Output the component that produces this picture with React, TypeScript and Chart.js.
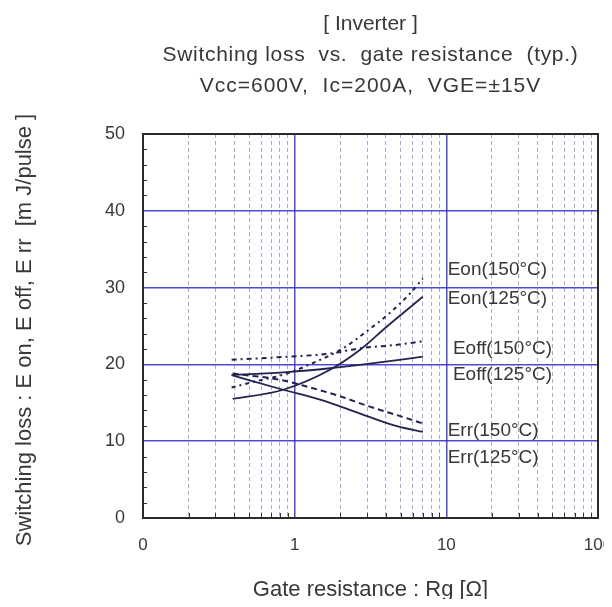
import React, { useEffect, useRef } from "react";
import { Chart, registerables } from "chart.js";

Chart.register(...registerables);

// ---- data ----
const titleLines = ["[ Inverter ]", "Switching loss  vs.  gate resistance  (typ.)", "Vcc=600V,  Ic=200A,  VGE=±15V"];
const xAxisTitle = "Gate resistance : Rg [Ω]";
const yAxisTitle = "Switching loss : E on, E off, E rr  [m J/pulse ]";

const xMajorTicks = [0.1, 1, 10, 100];
const xMajorLabels = ["0", "1", "10", "100"];
const xMinorTicks = [0.2, 0.3, 0.4, 0.5, 0.6, 0.7, 0.8, 0.9, 2, 3, 4, 5, 6, 7, 8, 9, 20, 30, 40, 50, 60, 70, 80, 90];
const yMinorTicks = [2, 4, 6, 8, 12, 14, 16, 18, 22, 24, 26, 28, 32, 34, 36, 38, 42, 44, 46, 48];

const seriesNames = ["Eon(150°C)", "Eon(125°C)", "Eoff(150°C)", "Eoff(125°C)", "Err(150°C)", "Err(125°C)"];

const rgEon150 = [0.384, 0.53, 0.886, 1.4, 2.09, 2.98, 4.24, 5.74, 7.0];
const eon150 = [17.0, 17.7, 18.8, 20.4, 22.1, 24.3, 26.7, 29.2, 31.2];
const rgEon125 = [0.39, 0.84, 1.71, 2.7, 4.04, 7.0];
const eon125 = [15.5, 16.7, 19.3, 21.9, 24.9, 28.8];
const rgEoff150 = [0.384, 0.886, 1.71, 2.7, 4.47, 7.0];
const eoff150 = [20.6, 21.0, 21.4, 22.1, 22.5, 23.0];
const rgEoff125 = [0.384, 0.886, 1.71, 3.13, 7.0];
const eoff125 = [18.6, 19.0, 19.5, 20.1, 21.0];
const rgErr150 = [0.39, 0.8, 1.26, 1.89, 3.13, 5.47, 7.0];
const err150 = [18.8, 18.0, 17.0, 16.0, 14.5, 13.0, 12.3];
const rgErr125 = [0.384, 0.84, 1.47, 2.7, 4.47, 7.0];
const err125 = [18.6, 16.7, 15.4, 13.6, 12.1, 11.2];

// curve label anchors (data coordinates)
const labelRg = [10.2, 10.2, 11.05, 11.05, 10.2, 10.2];
const labelE = [32.3, 28.6, 22.0, 18.6, 11.4, 7.9];

const FONT = "'Liberation Sans', Arial, sans-serif";
const TEXT = "#383838";
const LINE = "#23234f";

const pts = (xs: number[], ys: number[]) => xs.map((x, i) => ({ x, y: ys[i] }));

const decorPlugin = {
  id: "decor",
  beforeDatasetsDraw(chart: any) {
    const { ctx, chartArea: a, scales } = chart;
    ctx.save();
    ctx.strokeStyle = "#333";
    ctx.lineWidth = 1;
    ctx.beginPath();
    yMinorTicks.forEach((v) => {
      const py = Math.round(scales.y.getPixelForValue(v)) + 0.5;
      ctx.moveTo(a.left, py);
      ctx.lineTo(a.left + 4, py);
    });
    xMinorTicks.forEach((v) => {
      const px = Math.round(scales.x.getPixelForValue(v)) + 0.5;
      ctx.moveTo(px, a.bottom);
      ctx.lineTo(px, a.bottom - 5);
    });
    ctx.stroke();
    ctx.strokeStyle = "#2a2a2a";
    ctx.lineWidth = 2;
    ctx.strokeRect(a.left, a.top, a.right - a.left, a.bottom - a.top);
    ctx.restore();
  },
  afterDatasetsDraw(chart: any) {
    const { ctx, chartArea: a, scales } = chart;
    ctx.save();
    ctx.fillStyle = TEXT;
    ctx.textAlign = "center";
    ctx.textBaseline = "middle";
    const cx = (a.left + a.right) / 2;
    ctx.font = `21px ${FONT}`;
    titleLines.forEach((t, i) => {
      ctx.letterSpacing = i === 0 ? "0px" : i === 1 ? "0.7px" : "1px";
      ctx.fillText(t, cx, 16 + i * 31);
    });
    ctx.letterSpacing = "0px";
    ctx.font = `22px ${FONT}`;
    ctx.fillText(xAxisTitle, cx, 582);
    ctx.save();
    ctx.translate(17, (a.top + a.bottom) / 2 + 4);
    ctx.rotate(-Math.PI / 2);
    ctx.fillText(yAxisTitle, 0, 0);
    ctx.restore();
    ctx.font = `19px ${FONT}`;
    ctx.textAlign = "left";
    seriesNames.forEach((t, i) => {
      const px = scales.x.getPixelForValue(labelRg[i]);
      const py = scales.y.getPixelForValue(labelE[i]);
      ctx.fillText(t, px, py);
    });
    ctx.restore();
  },
};

export default function App() {
  const ref = useRef<HTMLCanvasElement>(null);
  useEffect(() => {
    const mk = (label: string, xs: number[], ys: number[], dash: number[], w: number) => ({
      label,
      data: pts(xs, ys),
      borderColor: LINE,
      borderWidth: w,
      borderDash: dash,
      pointRadius: 0,
      tension: 0.4,
      cubicInterpolationMode: "monotone" as const,
      fill: false,
    });
    const chart = new Chart(ref.current!, {
      type: "line",
      data: {
        datasets: [
          mk(seriesNames[0], rgEon150, eon150, [4, 4, 2, 4], 2),
          mk(seriesNames[1], rgEon125, eon125, [], 1.8),
          mk(seriesNames[2], rgEoff150, eoff150, [5, 4, 2, 4], 2),
          mk(seriesNames[3], rgEoff125, eoff125, [], 1.8),
          mk(seriesNames[4], rgErr150, err150, [6, 4], 2),
          mk(seriesNames[5], rgErr125, err125, [], 1.8),
        ],
      },
      options: {
        animation: false,
        responsive: false,
        devicePixelRatio: 1,
        layout: { padding: { top: 126, right: 14, left: 0, bottom: 0 } },
        plugins: { legend: { display: false }, tooltip: { enabled: false }, title: { display: false } },
        scales: {
          x: {
            type: "logarithmic",
            position: "bottom",
            min: 0.1,
            max: 100,
            afterBuildTicks: (s: any) => {
              s.ticks = xMajorTicks.map((v) => ({ value: v }));
            },
            afterFit: (s: any) => {
              s.height = 81;
              s.paddingLeft = 0;
              s.paddingRight = 0;
            },
            ticks: {
              autoSkip: false,
              maxRotation: 0,
              padding: 17,
              color: TEXT,
              font: { family: FONT, size: 17 },
              callback: (v: any) => {
                const i = xMajorTicks.indexOf(Number(v));
                return i >= 0 ? xMajorLabels[i] : "";
              },
            },
            grid: { color: "rgba(45,45,205,0.85)", lineWidth: 1.5, drawTicks: false },
            border: { display: false },
          },
          x2: {
            type: "logarithmic",
            position: "bottom",
            min: 0.1,
            max: 100,
            afterBuildTicks: (s: any) => {
              s.ticks = xMinorTicks.map((v) => ({ value: v }));
            },
            afterFit: (s: any) => {
              s.height = 0;
              s.paddingLeft = 0;
              s.paddingRight = 0;
            },
            ticks: { display: false },
            grid: { color: "rgba(110,110,190,0.6)", lineWidth: 1, drawTicks: false },
            border: { display: false, dash: [4, 3] },
          },
          y: {
            min: 0,
            max: 50,
            afterFit: (s: any) => {
              s.width = 135;
            },
            ticks: { stepSize: 10, padding: 18, color: TEXT, font: { family: FONT, size: 18 } },
            grid: { color: "rgba(45,45,205,0.85)", lineWidth: 1.5, drawTicks: false },
            border: { display: false },
          },
        },
      },
      plugins: [decorPlugin],
    } as any);
    return () => chart.destroy();
  }, []);
  return <canvas ref={ref} width={604} height={591} style={{ display: "block" }} />;
}
